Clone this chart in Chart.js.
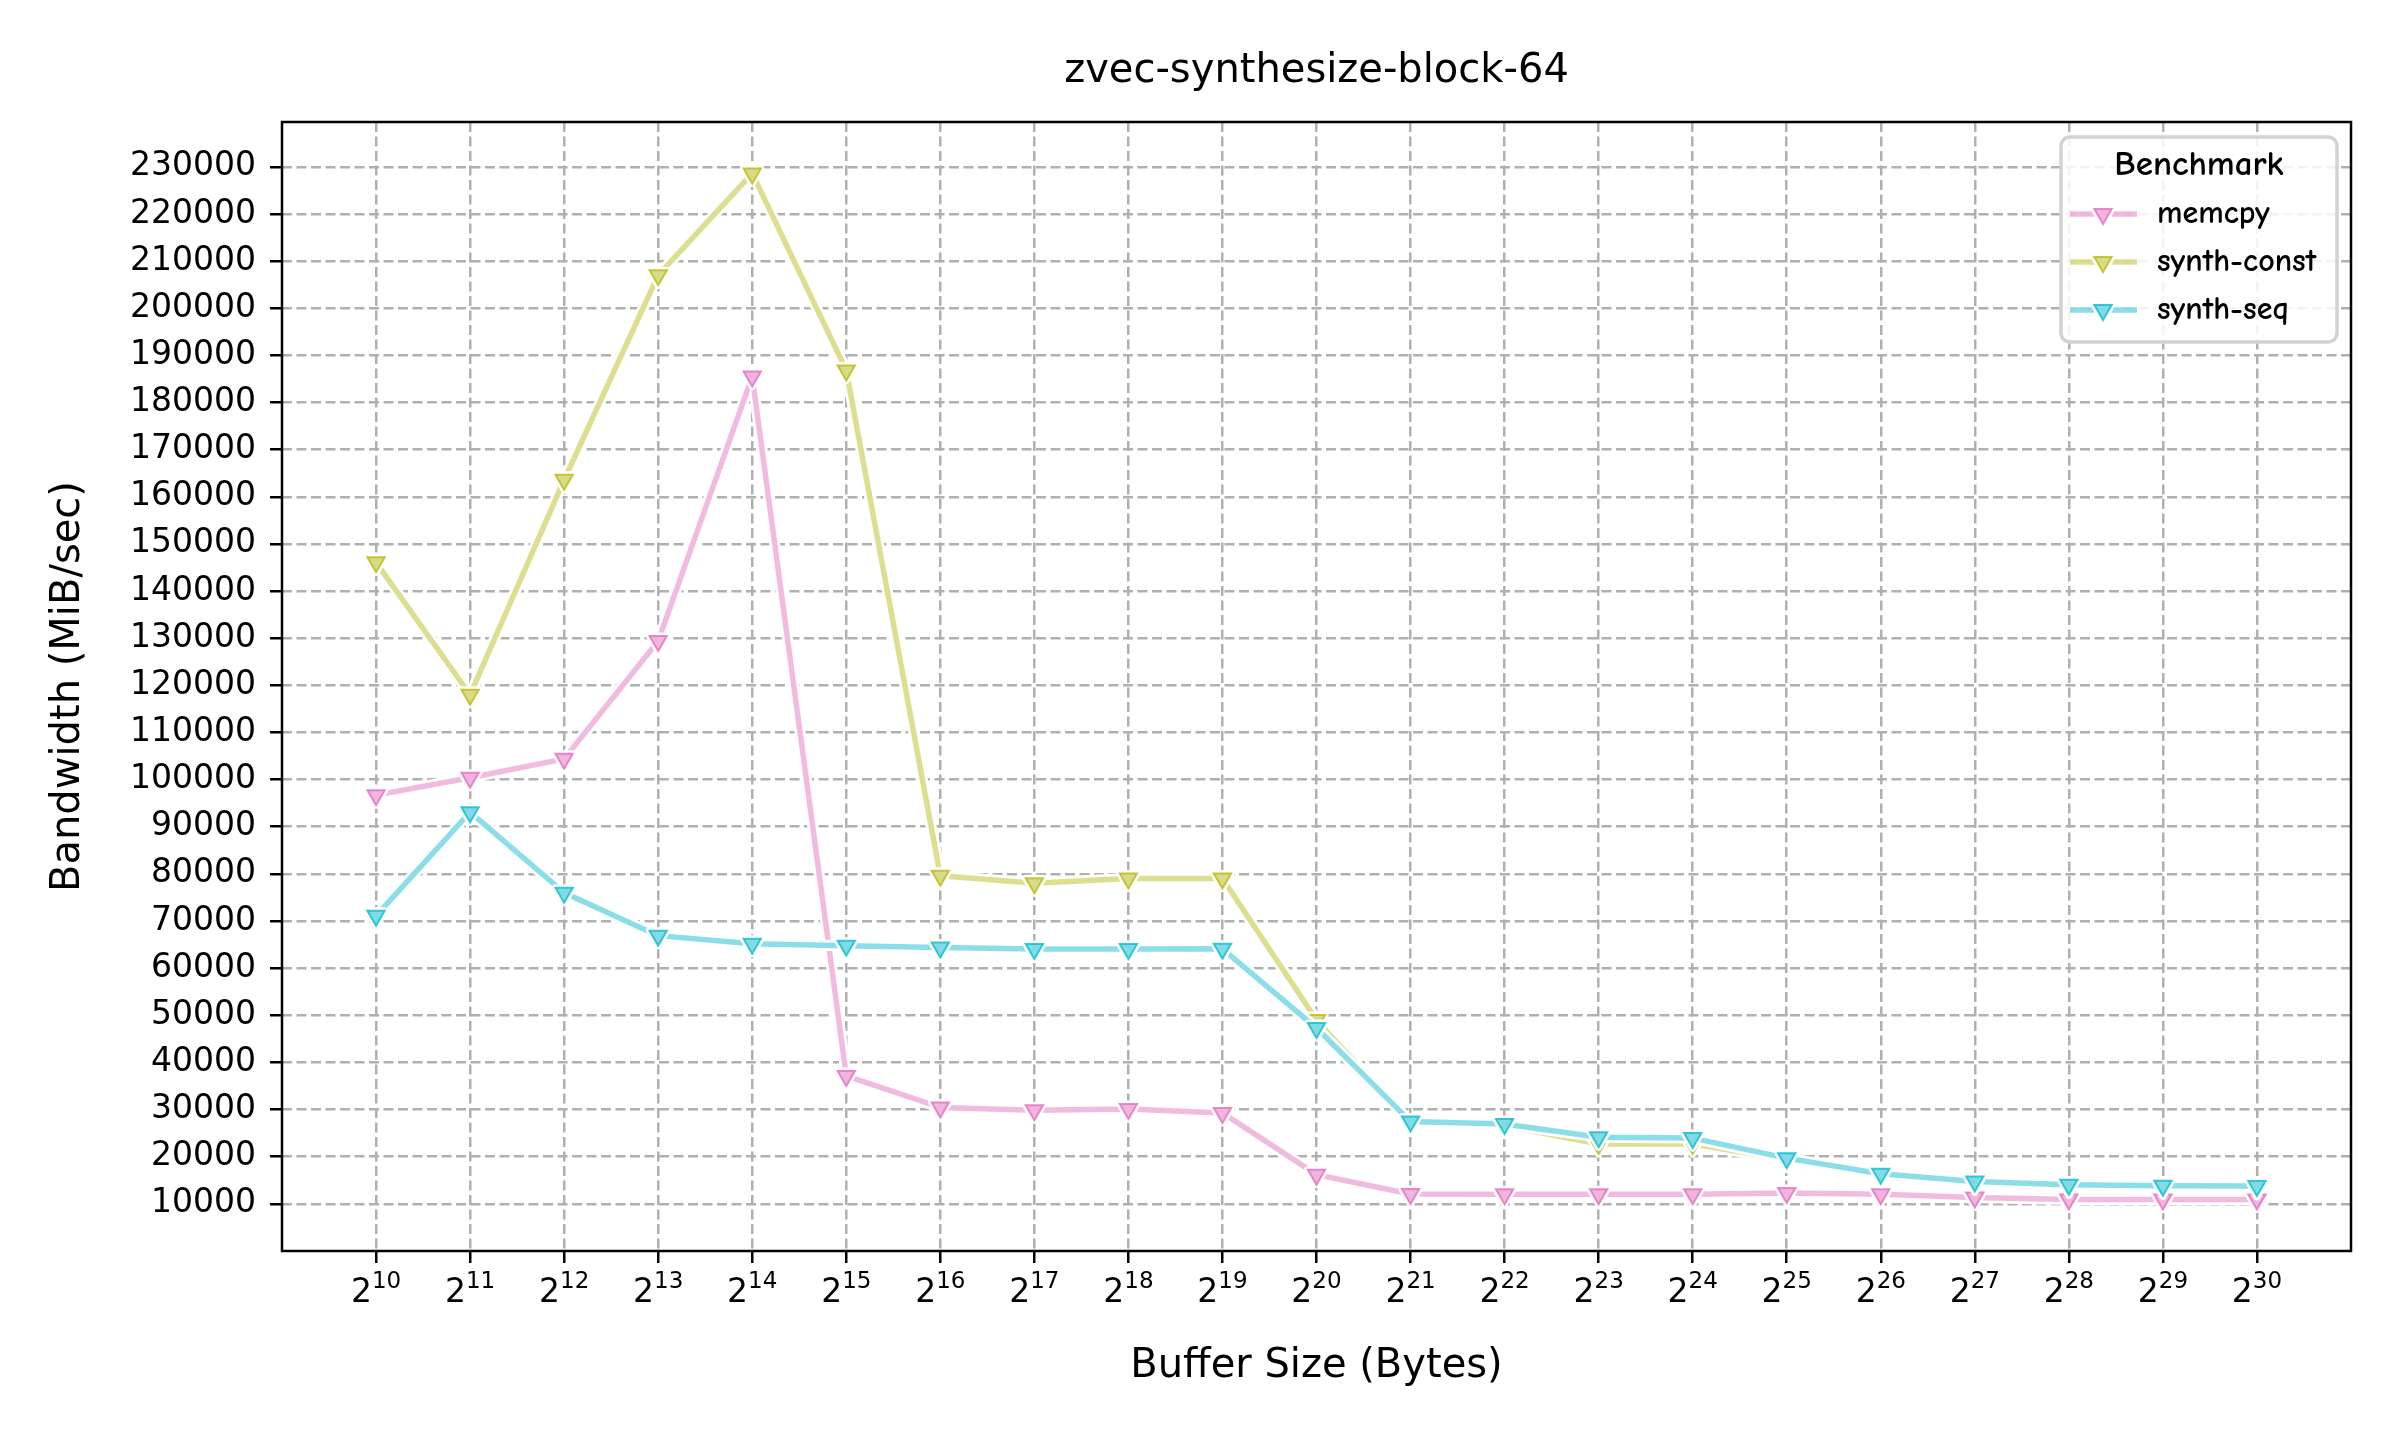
<!DOCTYPE html>
<html lang="en">
<head>
<meta charset="UTF-8">
<title>zvec-synthesize-block-64</title>
<script src="https://cdn.jsdelivr.net/npm/chart.js@4.4.1/dist/chart.umd.min.js"></script>
<style>
  body { margin: 0; background: #fff; }
  #wrap { width: 2400px; height: 1440px; }
</style>
</head>
<body>
<div id="wrap"><canvas id="chart" width="2400" height="1440"></canvas></div>
<script>
// buffer sizes as powers of two: tick label is 2 raised to the exponent
const exponents = [10, 11, 12, 13, 14, 15, 16, 17, 18, 19, 20, 21, 22, 23, 24, 25, 26, 27, 28, 29, 30];
const xTickBase = '2';
const yTicks = [10000, 20000, 30000, 40000, 50000, 60000, 70000, 80000, 90000, 100000, 110000, 120000,
  130000, 140000, 150000, 160000, 170000, 180000, 190000, 200000, 210000, 220000, 230000];

// bandwidth, MiB/sec
const memcpy = [96700, 100400, 104400, 129400, 185500, 37150, 30450, 29850, 30100, 29300, 16200,
  12100, 12050, 12050, 12050, 12300, 12050, 11350, 10950, 10900, 10950];
const synthConst = [146100, 118000, 163600, 207000, 228600, 186800, 79600, 78000, 79000, 79000, 49000,
  27200, 26600, 22700, 22700, 19400, 16200, 14600, 13900, 13700, 13600];
const synthSeq = [71100, 93100, 76000, 66900, 65200, 64750, 64400, 64050, 64050, 64100, 47300,
  27450, 26950, 24150, 23950, 19700, 16400, 14750, 14050, 13850, 13800];

const series = [
  { label: 'memcpy', values: memcpy, rgb: [227, 119, 194] },
  { label: 'synth-const', values: synthConst, rgb: [188, 189, 34] },
  { label: 'synth-seq', values: synthSeq, rgb: [23, 190, 207] }
];

function rgba(c, a) { return `rgba(${c[0]},${c[1]},${c[2]},${a})`; }

Chart.defaults.font.family = 'DejaVu Sans';
Chart.defaults.color = '#000';

const MARK_R = 10;

const datasets = series.map((s, i) => ({
  label: s.label,
  data: exponents.map((e, j) => ({ x: e, y: s.values[j] })),
  borderColor: rgba(s.rgb, 0.5),
  borderWidth: 5.5,
  borderJoinStyle: 'round',
  borderCapStyle: 'round',
  tension: 0,
  pointStyle: 'triangle',
  rotation: 180,
  pointRadius: MARK_R,
  pointBackgroundColor: rgba(s.rgb, 0.55),
  pointBorderColor: rgba(s.rgb, 0.85),
  pointBorderWidth: 2,
  order: series.length - i   // later series on top, like matplotlib
}));

// white outline under the lines and round the markers (xkcd look)
const haloPlugin = {
  id: 'halo',
  beforeDatasetDraw(chart, args) {
    const ctx = chart.ctx;
    const pts = args.meta.data;
    ctx.save();
    ctx.beginPath();
    pts.forEach((p, i) => i ? ctx.lineTo(p.x, p.y) : ctx.moveTo(p.x, p.y));
    ctx.strokeStyle = '#fff';
    ctx.lineWidth = 11;
    ctx.lineJoin = 'round';
    ctx.lineCap = 'round';
    ctx.stroke();
    ctx.restore();
  },
  afterDatasetDraw(chart, args) {
    const ctx = chart.ctx;
    args.meta.data.forEach(p => {
      ctx.save();
      ctx.fillStyle = '#fff';
      ctx.strokeStyle = '#fff';
      ctx.lineWidth = 7;
      ctx.lineJoin = 'round';
      Chart.helpers.drawPoint(ctx, { pointStyle: 'triangle', rotation: 180, radius: p.options.radius, borderWidth: 7 }, p.x, p.y);
      ctx.restore();
      p.draw(ctx, chart.chartArea);
    });
  }
};

// black frame round the plot area
const framePlugin = {
  id: 'frame',
  beforeDatasetsDraw(chart) {
    const { ctx, chartArea: a } = chart;
    ctx.save();
    ctx.strokeStyle = '#000';
    ctx.lineWidth = 2.5;
    ctx.strokeRect(a.left, a.top, a.right - a.left, a.bottom - a.top);
    ctx.restore();
  }
};

// x tick labels written as 2 with a raised exponent
const powerLabels = {
  id: 'powerLabels',
  afterDraw(chart) {
    const ctx = chart.ctx;
    const sx = chart.scales.x;
    const base = 1302;
    ctx.save();
    ctx.fillStyle = '#000';
    ctx.textBaseline = 'alphabetic';
    ctx.textAlign = 'left';
    exponents.forEach(e => {
      const cx = sx.getPixelForValue(e);
      ctx.font = '33px "DejaVu Sans"';
      const w1 = ctx.measureText(xTickBase).width;
      ctx.font = '23px "DejaVu Sans"';
      const w2 = ctx.measureText(String(e)).width;
      const x0 = cx - (w1 + w2) / 2;
      ctx.font = '33px "DejaVu Sans"';
      ctx.fillText(xTickBase, x0, base);
      ctx.font = '23px "DejaVu Sans"';
      ctx.fillText(String(e), x0 + w1, base - 14);
    });
    ctx.restore();
  }
};

// legend box in the upper right corner
const legendPlugin = {
  id: 'boxLegend',
  afterDraw(chart) {
    const ctx = chart.ctx;
    const x0 = 2061, y0 = 137, w = 276, h = 205;
    ctx.save();
    ctx.fillStyle = 'rgba(255,255,255,0.85)';
    ctx.strokeStyle = '#d2d2d2';
    ctx.lineWidth = 3.5;
    ctx.beginPath();
    ctx.roundRect(x0, y0, w, h, 9);
    ctx.fill();
    ctx.stroke();

    const hand = '"Humor Sans", "Comic Neue", "Comic Sans MS", "DejaVu Sans"';
    ctx.fillStyle = '#000';
    ctx.textAlign = 'center';
    ctx.textBaseline = 'middle';
    ctx.font = `bold 35px ${hand}`;
    ctx.fillText('Benchmark', 2199, 165);

    ctx.font = `bold 32px ${hand}`;
    ctx.textAlign = 'left';
    chart.data.datasets.forEach((ds, i) => {
      const y = 214 + i * 48;
      ctx.strokeStyle = ds.borderColor;
      ctx.lineWidth = 5.5;
      ctx.lineCap = 'butt';
      ctx.beginPath();
      ctx.moveTo(2070, y);
      ctx.lineTo(2137, y);
      ctx.stroke();
      ctx.fillStyle = '#fff';
      ctx.strokeStyle = '#fff';
      ctx.lineWidth = 7;
      Chart.helpers.drawPoint(ctx, { pointStyle: 'triangle', rotation: 180, radius: MARK_R, borderWidth: 7 }, 2103, y);
      ctx.fillStyle = ds.pointBackgroundColor;
      ctx.strokeStyle = ds.pointBorderColor;
      ctx.lineWidth = 2;
      Chart.helpers.drawPoint(ctx, { pointStyle: 'triangle', rotation: 180, radius: MARK_R, borderWidth: 2 }, 2103, y);
      ctx.fillStyle = '#000';
      ctx.fillText(ds.label, 2157, y);
    });
    ctx.restore();
  }
};

const gridOpts = { color: '#b0b0b0', lineWidth: 2.5, tickColor: '#000', tickWidth: 2.5, tickLength: 12 };

new Chart(document.getElementById('chart'), {
  type: 'line',
  data: { datasets },
  options: {
    responsive: false,
    devicePixelRatio: 1,
    animation: false,
    layout: { padding: { left: 0, right: 49, top: 0, bottom: 0 } },
    plugins: {
      legend: { display: false },
      tooltip: { enabled: false },
      title: {
        display: true,
        fullSize: false,
        text: 'zvec-synthesize-block-64',
        color: '#000',
        font: { size: 40, weight: 'normal' },
        padding: { top: 48, bottom: 26 }
      }
    },
    scales: {
      x: {
        type: 'linear',
        min: 9,
        max: 31,
        afterBuildTicks: s => { s.ticks = exponents.map(v => ({ value: v })); },
        ticks: { display: false },
        grid: gridOpts,
        border: { display: false, dash: [10, 4.5] },
        title: {
          display: true,
          text: 'Buffer Size (Bytes)',
          font: { size: 40 },
          padding: { top: 0, bottom: 49 }
        },
        afterFit: s => { s.height = 189; }
      },
      y: {
        type: 'linear',
        min: 0,
        max: 239500,
        afterBuildTicks: s => { s.ticks = yTicks.map(v => ({ value: v })); },
        ticks: {
          autoSkip: false,
          padding: 14,
          font: { size: 33 },
          callback: v => String(v)
        },
        grid: gridOpts,
        border: { display: false, dash: [10, 4.5] },
        title: {
          display: true,
          text: 'Bandwidth (MiB/sec)',
          font: { size: 40 },
          padding: { top: 45, bottom: 0 }
        },
        afterFit: s => { s.width = 282; }
      }
    }
  },
  plugins: [haloPlugin, framePlugin, powerLabels, legendPlugin]
});
</script>
</body>
</html>
